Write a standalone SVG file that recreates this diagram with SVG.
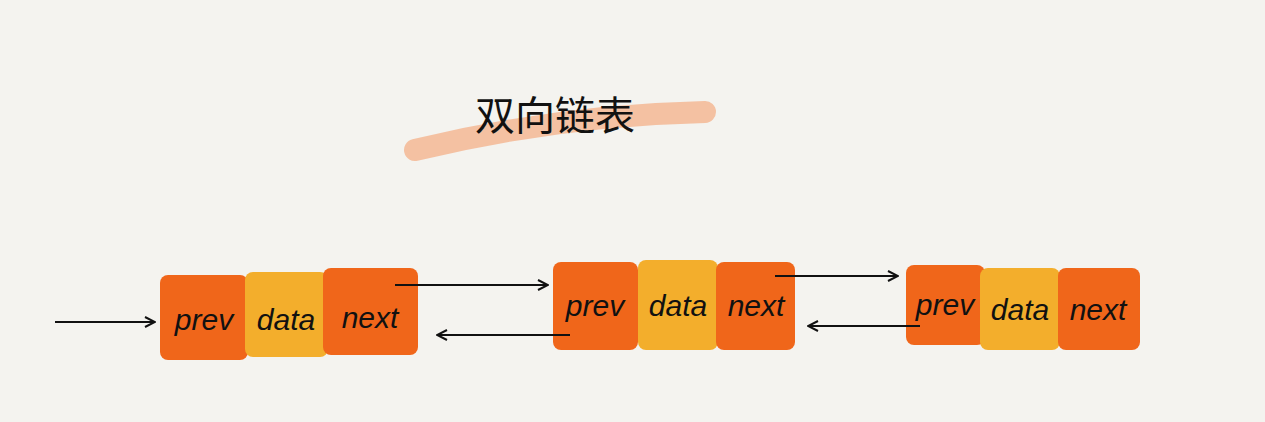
<svg xmlns="http://www.w3.org/2000/svg" width="1265" height="422" viewBox="0 0 1265 422">
<defs>
<style>
.o{fill:#f0661a}.y{fill:#f3ae2c}
.t{font-family:"Liberation Sans",sans-serif;font-size:30px;fill:#111;text-anchor:middle;font-style:italic}
.c{stroke:#111;stroke-width:2;fill:none}
</style>
<marker id="a" viewBox="0 0 12 12" refX="11" refY="6" markerWidth="12" markerHeight="12" markerUnits="userSpaceOnUse" orient="auto"><path d="M1,1 L11,6 L1,11" fill="none" stroke="#111" stroke-width="2"/></marker>
</defs>
<rect width="1265" height="422" fill="#f4f3ef"/>
<path d="M415,150 Q560,115 705,112" stroke="#f4b48e" stroke-width="22" stroke-linecap="round" fill="none" opacity="0.8"/>
<text x="555" y="130" font-family="'Noto Sans CJK SC',sans-serif" font-size="40" fill="#111" text-anchor="middle">双向链表</text>
<g id="node1">
<rect class="o" x="160" y="275" width="88" height="85" rx="8"/>
<rect class="y" x="245" y="272" width="83" height="85" rx="8"/>
<rect class="o" x="323" y="268" width="95" height="87" rx="8"/>
<text class="t" x="204" y="330">prev</text><text class="t" x="286" y="330">data</text><text class="t" x="370" y="328">next</text>
</g>
<g id="node2">
<rect class="o" x="553" y="262" width="85" height="88" rx="8"/>
<rect class="y" x="638" y="260" width="80" height="90" rx="8"/>
<rect class="o" x="716" y="262" width="79" height="88" rx="8"/>
<text class="t" x="595" y="316">prev</text><text class="t" x="678" y="316">data</text><text class="t" x="756" y="316">next</text>
</g>
<g id="node3">
<rect class="o" x="906" y="265" width="79" height="80" rx="8"/>
<rect class="y" x="980" y="268" width="80" height="82" rx="8"/>
<rect class="o" x="1058" y="268" width="82" height="82" rx="8"/>
<text class="t" x="945" y="315">prev</text><text class="t" x="1020" y="320">data</text><text class="t" x="1098" y="320">next</text>
</g>
<g id="connectors">
<path class="c" d="M55,322 L155,322" marker-end="url(#a)"/>
<path class="c" d="M395,285 L548,285" marker-end="url(#a)"/>
<path class="c" d="M570,335 L437,335" marker-end="url(#a)"/>
<path class="c" d="M775,276 L898,276" marker-end="url(#a)"/>
<path class="c" d="M920,326 L808,326" marker-end="url(#a)"/>
</g>
</svg>
